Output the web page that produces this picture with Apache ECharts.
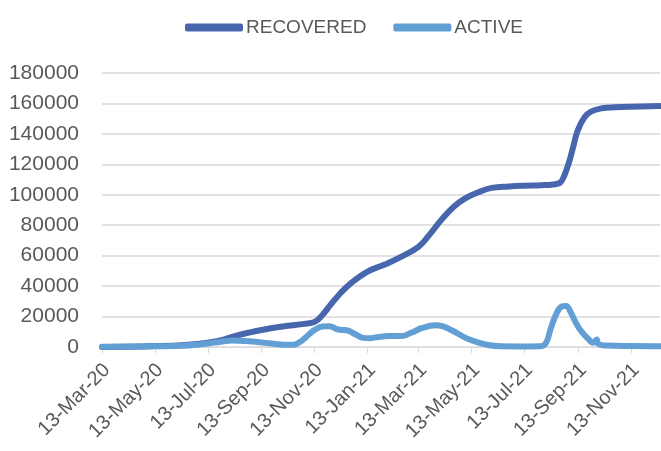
<!DOCTYPE html>
<html>
<head>
<meta charset="utf-8">
<script src="https://cdn.jsdelivr.net/npm/echarts@6/dist/echarts.min.js"></script>
<style>
  html, body { margin: 0; padding: 0; background: #fff; }
  #chart { width: 661px; height: 451px; }
</style>
</head>
<body>
<div id="chart"></div>
<script>
// tick labels shown on the date axis (every 2 months)
const tickLabels = ["13-Mar-20", "13-May-20", "13-Jul-20", "13-Sep-20", "13-Nov-20",
  "13-Jan-21", "13-Mar-21", "13-May-21", "13-Jul-21", "13-Sep-21", "13-Nov-21"];

const firstDay = "2020-03-13";
const lastDay = "2021-12-16";

// values at sample dates
const recovered = [
  ["13-Mar-20", 0], ["13-Apr-20", 200], ["13-May-20", 600], ["13-Jun-20", 1200],
  ["1-Jul-20", 2000], ["13-Jul-20", 2800], ["1-Aug-20", 5000], ["15-Aug-20", 7500],
  ["1-Sep-20", 9800], ["13-Sep-20", 11200], ["1-Oct-20", 13000], ["13-Oct-20", 14000],
  ["1-Nov-20", 15200], ["13-Nov-20", 16500], ["22-Nov-20", 21000], ["1-Dec-20", 27500],
  ["13-Dec-20", 35500], ["25-Dec-20", 42000], ["13-Jan-21", 49500], ["1-Feb-21", 54000],
  ["20-Feb-21", 59000], ["13-Mar-21", 66000], ["25-Mar-21", 73500], ["8-Apr-21", 83500],
  ["22-Apr-21", 92000], ["5-May-21", 97500], ["20-May-21", 101500], ["5-Jun-21", 104500],
  ["25-Jun-21", 105500], ["13-Jul-21", 106000], ["1-Aug-21", 106300], ["15-Aug-21", 106800],
  ["23-Aug-21", 108000], ["28-Aug-21", 113000], ["2-Sep-21", 121000], ["7-Sep-21", 131500],
  ["12-Sep-21", 142000], ["20-Sep-21", 151000], ["28-Sep-21", 154800], ["10-Oct-21", 156800],
  ["25-Oct-21", 157500], ["13-Nov-21", 157900], ["16-Dec-21", 158300]
];

const active = [
  ["13-Mar-20", 100], ["13-Apr-20", 300], ["13-May-20", 500], ["13-Jun-20", 800],
  ["1-Jul-20", 1500], ["13-Jul-20", 2300], ["28-Jul-20", 3500], ["10-Aug-20", 4200],
  ["25-Aug-20", 3900], ["13-Sep-20", 3000], ["1-Oct-20", 1800], ["13-Oct-20", 1400],
  ["20-Oct-20", 1500], ["30-Oct-20", 4500], ["7-Nov-20", 8500], ["13-Nov-20", 11200],
  ["22-Nov-20", 13500], ["30-Nov-20", 13600], ["10-Dec-20", 11500], ["20-Dec-20", 11000],
  ["31-Dec-20", 8000], ["8-Jan-21", 6000], ["16-Jan-21", 5800], ["28-Jan-21", 6800],
  ["10-Feb-21", 7200], ["22-Feb-21", 7300], ["5-Mar-21", 9500], ["17-Mar-21", 12500],
  ["1-Apr-21", 14300], ["10-Apr-21", 13500], ["20-Apr-21", 11000], ["6-May-21", 6000],
  ["20-May-21", 3000], ["1-Jun-21", 1300], ["15-Jun-21", 500], ["13-Jul-21", 400],
  ["1-Aug-21", 500], ["7-Aug-21", 3000], ["12-Aug-21", 12000], ["20-Aug-21", 23500],
  ["26-Aug-21", 26800], ["30-Aug-21", 27000], ["4-Sep-21", 23000], ["9-Sep-21", 17000],
  ["16-Sep-21", 10500], ["24-Sep-21", 5500], ["30-Sep-21", 2800], ["4-Oct-21", 5000],
  ["6-Oct-21", 2000], ["15-Oct-21", 1000], ["13-Nov-21", 600], ["16-Dec-21", 500]
];

const monthNames = ["Jan", "Feb", "Mar", "Apr", "May", "Jun", "Jul", "Aug", "Sep", "Oct", "Nov", "Dec"];

function dayLabel(d) {
  return d.getUTCDate() + "-" + monthNames[d.getUTCMonth()] + "-" + String(d.getUTCFullYear()).slice(2);
}

// one category per day
let days = [];
let t = Date.parse(firstDay);
let end = Date.parse(lastDay);
while (t <= end) {
  days.push(dayLabel(new Date(t)));
  t += 86400000;
}

function isTick(index, value) {
  return tickLabels.indexOf(value) >= 0;
}

var dom = document.getElementById("chart");
var myChart = echarts.init(dom, null, { renderer: "canvas" });

var option = {
  animation: false,
  textStyle: { fontFamily: "Liberation Sans" },
  legend: {
    left: 180,
    top: 13,
    itemWidth: 58,
    itemHeight: 8,
    itemGap: 27,
    icon: "roundRect",
    textStyle: { fontSize: 19, color: "#595959", padding: [0, 0, 0, -2] },
    data: ["RECOVERED", "ACTIVE"]
  },
  grid: { left: 102, right: 1, top: 73, bottom: 104 },
  xAxis: {
    type: "category",
    data: days,
    boundaryGap: false,
    axisLine: { lineStyle: { color: "#d9d9d9", width: 1 } },
    axisTick: { interval: isTick, length: 6, lineStyle: { color: "#d9d9d9" } },
    axisLabel: {
      interval: isTick,
      rotate: 45,
      margin: 25,
      fontSize: 20,
      color: "#595959",
      padding: [7, -7, -7, 0]
    },
    splitLine: { show: false }
  },
  yAxis: {
    type: "value",
    min: 0,
    max: 180000,
    interval: 20000,
    axisLine: { show: false },
    axisTick: { show: false },
    axisLabel: {
      fontSize: 21,
      color: "#595959",
      margin: 23,
      formatter: function (v) { return String(v); }
    },
    splitLine: { lineStyle: { color: "#d9d9d9", width: 1.5 } }
  },
  series: [
    {
      name: "RECOVERED",
      type: "line",
      data: recovered,
      showSymbol: false,
      smooth: 0.4,
      itemStyle: { color: "#4866ae" },
      lineStyle: { color: "#4866ae", width: 6, cap: "round", join: "round" }
    },
    {
      name: "ACTIVE",
      type: "line",
      data: active,
      showSymbol: false,
      smooth: 0.4,
      itemStyle: { color: "#629fd4" },
      lineStyle: { color: "#629fd4", width: 6, cap: "round", join: "round" }
    }
  ]
};

myChart.setOption(option);
</script>
</body>
</html>
